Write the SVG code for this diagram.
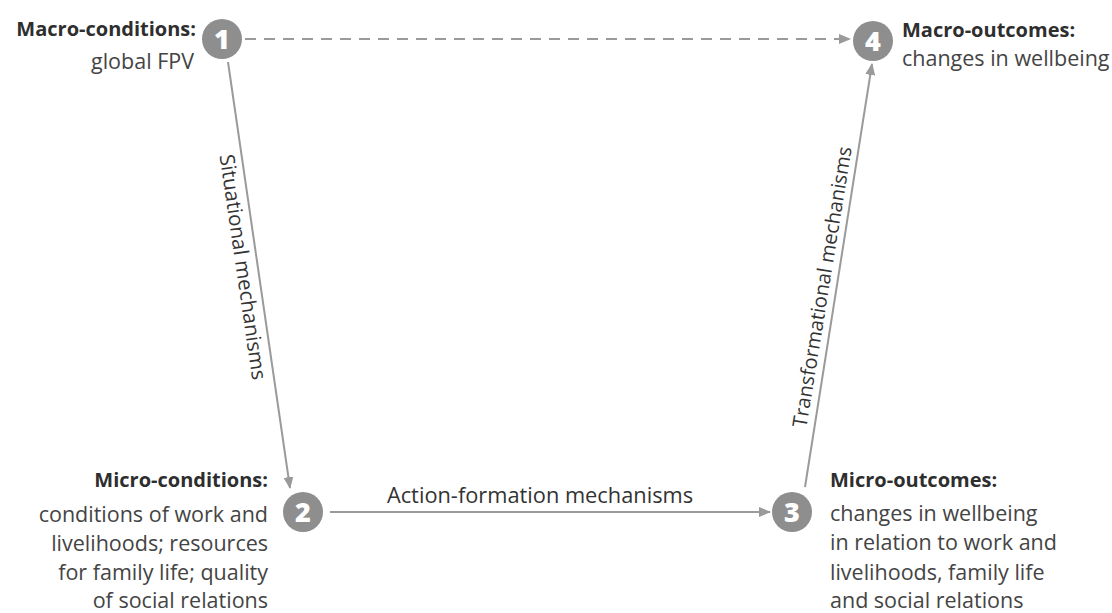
<svg xmlns="http://www.w3.org/2000/svg" width="1112" height="613" viewBox="0 0 1112 613">
<defs>
<style>
.lbl{font-family:"Open Sans",Lato,sans-serif;font-size:20px;fill:#2e2e2e;font-weight:bold}
.txt{font-family:"Open Sans",Lato,sans-serif;font-size:21.5px;fill:#444}
.mech{font-family:"Open Sans",Lato,sans-serif;fill:#333}
.num{font-family:"Open Sans",Lato,sans-serif;font-size:27px;font-weight:800;fill:#fff;text-anchor:middle}
.circ{fill:#8e8e8e}
.ln{stroke:#9a9a9a;stroke-width:2;fill:none}
</style>
<marker id="ah" viewBox="0 0 12 10" refX="11" refY="5" markerWidth="12" markerHeight="10" markerUnits="userSpaceOnUse" orient="auto">
<path d="M0,0 L12,5 L0,10 z" fill="#9a9a9a"/>
</marker>
</defs>
<g id="connectors">
<line class="ln" x1="245" y1="39" x2="850" y2="39" stroke-dasharray="11,8" marker-end="url(#ah)"/>
<line class="ln" x1="228" y1="62" x2="290" y2="488" marker-end="url(#ah)"/>
<line class="ln" x1="330" y1="512" x2="770" y2="512" marker-end="url(#ah)"/>
<line class="ln" x1="805" y1="487" x2="872" y2="64" marker-end="url(#ah)"/>
<text class="mech" font-size="20.5" transform="translate(236,268) rotate(81.7)" text-anchor="middle">Situational mechanisms</text>
<text class="mech" font-size="21.8" x="540" y="503" text-anchor="middle">Action-formation mechanisms</text>
<text class="mech" font-size="20" transform="translate(829,288) rotate(-80.8)" text-anchor="middle">Transformational mechanisms</text>
</g>
<g id="node1">
<circle class="circ" cx="222" cy="39" r="20"/>
<text class="num" x="222" y="49">1</text>
<text class="lbl" x="196" y="36" text-anchor="end">Macro-conditions:</text>
<text class="txt" x="194" y="69" text-anchor="end">global FPV</text>
</g>
<g id="node4">
<circle class="circ" cx="873" cy="41" r="20"/>
<text class="num" x="873" y="51">4</text>
<text class="lbl" x="902" y="37">Macro-outcomes:</text>
<text class="txt" x="902" y="66">changes in wellbeing</text>
</g>
<g id="node2">
<circle class="circ" cx="303" cy="512" r="20"/>
<text class="num" x="303" y="522">2</text>
<g class="txt" text-anchor="end">
<text class="lbl" x="268" y="487">Micro-conditions:</text>
<text x="268" y="522">conditions of work and</text>
<text x="268" y="551">livelihoods; resources</text>
<text x="268" y="580">for family life; quality</text>
<text x="268" y="608">of social relations</text>
</g>
</g>
<g id="node3">
<circle class="circ" cx="792" cy="512" r="20"/>
<text class="num" x="792" y="522">3</text>
<text class="lbl" x="830" y="487">Micro-outcomes:</text>
<text class="txt" x="830" y="521">changes in wellbeing</text>
<text class="txt" x="830" y="550">in relation to work and</text>
<text class="txt" x="830" y="580">livelihoods, family life</text>
<text class="txt" x="830" y="608">and social relations</text>
</g>
</svg>
